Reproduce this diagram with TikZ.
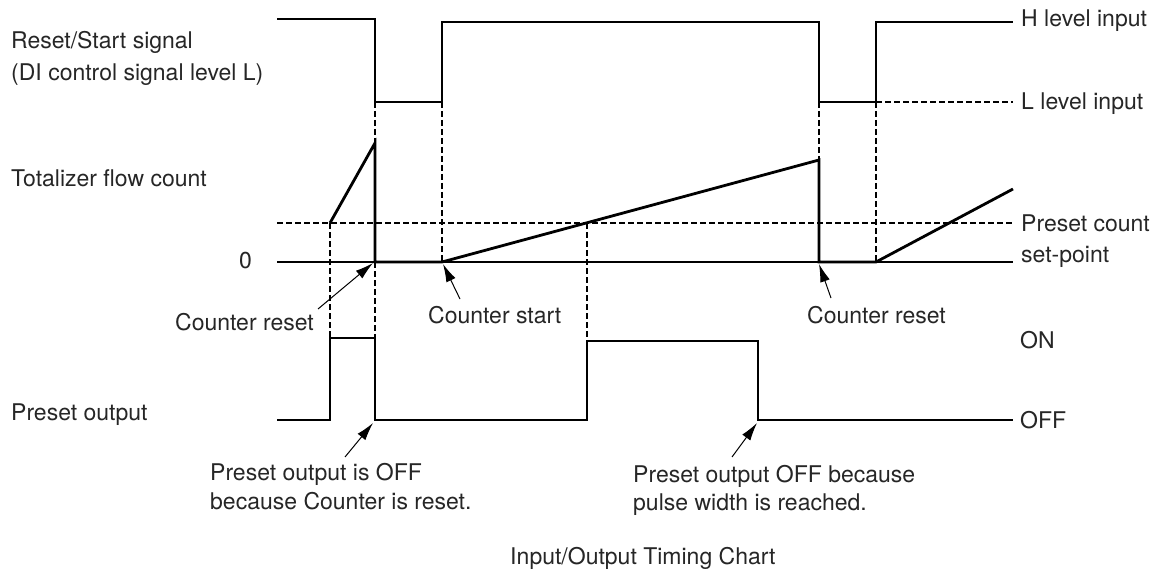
\documentclass[tikz,border=0pt]{standalone}
\usepackage{fontspec}
\setmainfont{TeX Gyre Heros}
\usetikzlibrary{arrows.meta}
\begin{document}
\begin{tikzpicture}[x=1pt,y=-1pt,
  sig/.style={line width=2.8pt, line join=miter},
  axisline/.style={line width=1.2pt},
  dsh/.style={line width=1.6pt, dash pattern=on 6pt off 3pt},
  lbl/.style={anchor=base west, inner sep=0pt, font=\fontsize{23}{28}\selectfont, text=black!85},
  ann/.style={line width=1pt, -{Latex[length=18pt,width=10pt]}}]
\useasboundingbox (0,0) rectangle (1164,572);

% labels
\node[lbl] (rs1) at (11,49) {Reset/Start signal};
\node[lbl] (rs2) at (11,81) {(DI control signal level L)};
\node[lbl] (tot) at (11,186) {Totalizer flow count};
\node[lbl] (zero) at (239,268) {0};
\node[lbl] (po) at (11,420) {Preset output};
\node[lbl] (hl) at (1021,27) {H level input};
\node[lbl] (ll) at (1021,110) {L level input};
\node[lbl] (pc1) at (1021,231) {Preset count};
\node[lbl] (pc2) at (1021,262) {set-point};
\node[lbl] (on) at (1020,348) {ON};
\node[lbl] (off) at (1020,428) {OFF};
\node[lbl] (cr1) at (175,330) {Counter reset};
\node[lbl] (cs) at (428,323) {Counter start};
\node[lbl] (cr2) at (807,323) {Counter reset};
\node[lbl] (pa1) at (210,480) {Preset output is OFF};
\node[lbl] (pa2) at (210,509) {because Counter is reset.};
\node[lbl] (pb1) at (633,482) {Preset output OFF because};
\node[lbl] (pb2) at (633,510) {pulse width is reached.};
\node[lbl] (title) at (510,564) {Input/Output Timing Chart};

% dashed guide lines
\draw[dsh] (277,223) -- (1013,223);
\draw[dsh] (876,102) -- (1013,102);
\draw[dsh] (330,223) -- (330,338);
\draw[dsh] (375,102) -- (375,143);
\draw[dsh] (375,262) -- (375,338);
\draw[dsh] (442,102) -- (442,262);
\draw[dsh] (587,223) -- (587,341);
\draw[dsh] (819,102) -- (819,160);
\draw[dsh] (876,102) -- (876,262);

% zero line
\draw[axisline] (277,262) -- (1013,262);

% Reset/Start signal
\draw[sig] (277,19) -- (375,19) -- (375,102) -- (442,102) -- (442,22) -- (819,22)
  -- (819,102) -- (876,102) -- (876,22) -- (1013,22);

% Totalizer flow count
\draw[sig] (330,223) -- (375,143) -- (375,262) -- (442,262) -- (819,160) -- (819,262)
  -- (876,262) -- (1013,189);

% Preset output
\draw[sig] (277,420) -- (330,420) -- (330,338) -- (375,338) -- (375,420) -- (587,420)
  -- (587,341) -- (758,341) -- (758,420) -- (1013,420);

% annotation arrows
\coordinate (a1s) at (318,309); \coordinate (a1t) at (373,263);
\coordinate (a2s) at (460,299); \coordinate (a2t) at (443,264);
\coordinate (a3s) at (831,298); \coordinate (a3t) at (819,264);
\coordinate (a4s) at (345,457); \coordinate (a4t) at (373,423);
\coordinate (a5s) at (732,457); \coordinate (a5t) at (757,423);
\draw[ann] (a1s) -- (a1t);
\draw[ann] (a2s) -- (a2t);
\draw[ann] (a3s) -- (a3t);
\draw[ann] (a4s) -- (a4t);
\draw[ann] (a5s) -- (a5t);
\end{tikzpicture}
\end{document}
